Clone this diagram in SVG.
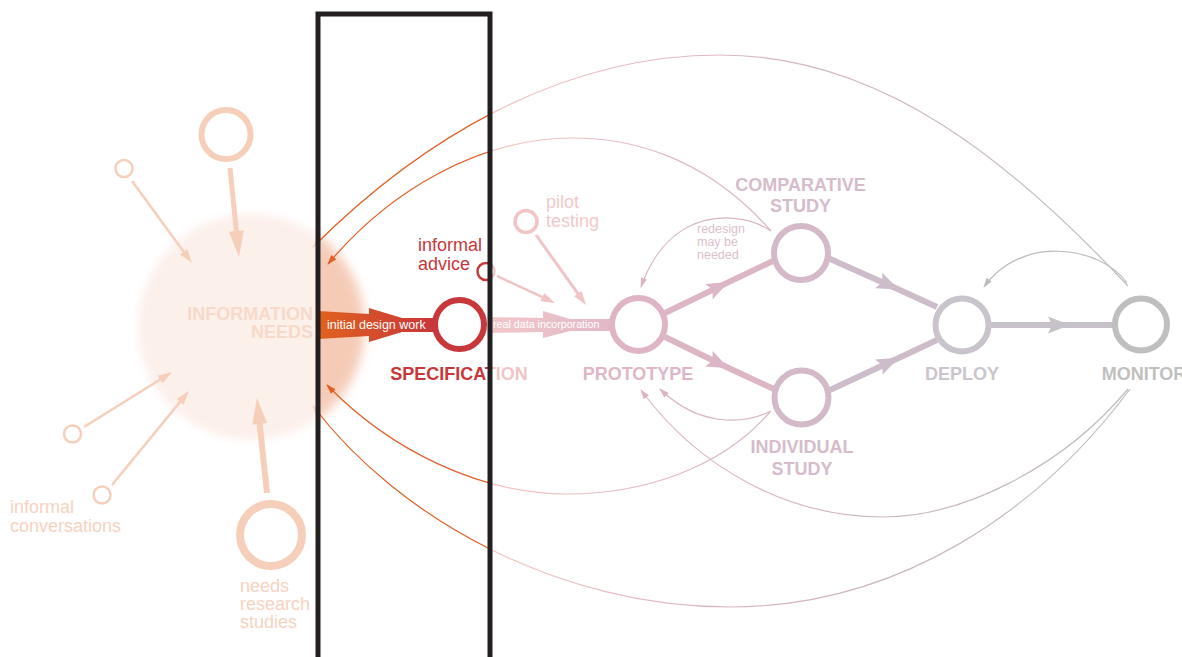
<svg xmlns="http://www.w3.org/2000/svg" width="1182" height="657" viewBox="0 0 1182 657">
<defs>
<style>
text { font-family: "Liberation Sans", Arial, Helvetica, sans-serif; }
.lbl { font-weight: bold; font-size: 18px; text-anchor: middle; }
.note { font-size: 18px; }
.small { font-size: 12.5px; }
.arc { fill: none; stroke-width: 1.2; }
.ring { fill: #ffffff; stroke-width: 6; }
.sat { fill: none; stroke: #f5cfba; }
.thick { fill: none; stroke-width: 6; }
</style>
<clipPath id="focus"><rect x="320.5" y="16.5" width="167" height="660"/></clipPath>
<filter id="soft" x="-20%" y="-20%" width="140%" height="140%"><feGaussianBlur stdDeviation="4"/></filter>
<filter id="glow" x="-20%" y="-20%" width="140%" height="140%"><feGaussianBlur stdDeviation="6"/></filter>
<linearGradient id="gArc" gradientUnits="userSpaceOnUse" x1="313" y1="0" x2="1130" y2="0">
<stop offset="0" stop-color="#f6d2c0"/>
<stop offset="0.0061" stop-color="#f6d2c0"/>
<stop offset="0.0062" stop-color="#e05f25"/>
<stop offset="0.2166" stop-color="#e05f25"/>
<stop offset="0.2167" stop-color="#f3c5bd"/>
<stop offset="0.4" stop-color="#e4bac6"/>
<stop offset="0.6" stop-color="#d3b6c4"/>
<stop offset="1" stop-color="#bdbdbd"/>
</linearGradient>
<linearGradient id="gArcR" gradientUnits="userSpaceOnUse" x1="640" y1="0" x2="1130" y2="0">
<stop offset="0" stop-color="#dfb6c5"/>
<stop offset="0.3" stop-color="#d5b6c5"/>
<stop offset="1" stop-color="#bebebe"/>
</linearGradient>
<linearGradient id="gInit" gradientUnits="userSpaceOnUse" x1="318" y1="0" x2="432" y2="0">
<stop offset="0" stop-color="#e0621e"/>
<stop offset="1" stop-color="#c8373a"/>
</linearGradient>
<linearGradient id="gReal" gradientUnits="userSpaceOnUse" x1="490" y1="0" x2="612" y2="0">
<stop offset="0" stop-color="#f1c8ca"/>
<stop offset="1" stop-color="#e2b7c7"/>
</linearGradient>
<linearGradient id="gSpec" gradientUnits="userSpaceOnUse" x1="380" y1="0" x2="540" y2="0">
<stop offset="0" stop-color="#c8373a"/>
<stop offset="0.6875" stop-color="#c8373a"/>
<stop offset="0.6876" stop-color="#f1c6c6"/>
<stop offset="1" stop-color="#efc2c4"/>
</linearGradient>
<linearGradient id="gAdvice" gradientUnits="userSpaceOnUse" x1="470" y1="0" x2="500" y2="0">
<stop offset="0" stop-color="#c8373a"/>
<stop offset="0.6666" stop-color="#c8373a"/>
<stop offset="0.6667" stop-color="#f1c6c6"/>
<stop offset="1" stop-color="#f1c6c6"/>
</linearGradient>
<marker id="mBig" viewBox="-17 -8 28 16" markerWidth="28" markerHeight="16" refX="0" refY="0" orient="auto" markerUnits="userSpaceOnUse"><path d="M10,0 L-16,-7.5 L-16,7.5 Z" fill="#f5cfba"/></marker>
<marker id="mSmall" viewBox="-10 -5 16 10" markerWidth="16" markerHeight="10" refX="0" refY="0" orient="auto" markerUnits="userSpaceOnUse"><path d="M5,0 L-9,-4.5 L-9,4.5 Z" fill="#f5cfba"/></marker>
<marker id="mSmallPink" viewBox="-10 -5 16 10" markerWidth="16" markerHeight="10" refX="0" refY="0" orient="auto" markerUnits="userSpaceOnUse"><path d="M5,0 L-9,-4.5 L-9,4.5 Z" fill="#f0c4c6"/></marker>
<marker id="mMidP" viewBox="-24 -10 28 20" markerWidth="28" markerHeight="20" refX="0" refY="0" orient="auto" markerUnits="userSpaceOnUse"><path d="M2,0 L-20,-8.5 L-16,0 L-20,8.5 Z" fill="#dcb6c6"/></marker>
<marker id="mMidC" viewBox="-24 -10 28 20" markerWidth="28" markerHeight="20" refX="0" refY="0" orient="auto" markerUnits="userSpaceOnUse"><path d="M2,0 L-20,-8.5 L-16,0 L-20,8.5 Z" fill="#cdbcc9"/></marker>
<marker id="mMidD" viewBox="-24 -10 28 20" markerWidth="28" markerHeight="20" refX="0" refY="0" orient="auto" markerUnits="userSpaceOnUse"><path d="M2,0 L-20,-8.5 L-16,0 L-20,8.5 Z" fill="#c6c2c8"/></marker>
<marker id="mArcO" viewBox="-10 -4 12 8" markerWidth="12" markerHeight="8" refX="0" refY="0" orient="auto" markerUnits="userSpaceOnUse"><path d="M1,0 L-9,-3.2 L-9,3.2 Z" fill="#e05f25"/></marker>
<marker id="mArcPale" viewBox="-10 -4 12 8" markerWidth="12" markerHeight="8" refX="0" refY="0" orient="auto" markerUnits="userSpaceOnUse"><path d="M1,0 L-9,-3.2 L-9,3.2 Z" fill="#f6d2c0"/></marker>
<marker id="mArcPink" viewBox="-10 -4 12 8" markerWidth="12" markerHeight="8" refX="0" refY="0" orient="auto" markerUnits="userSpaceOnUse"><path d="M1,0 L-9,-3.2 L-9,3.2 Z" fill="#dab4c4"/></marker>
<marker id="mArcGray" viewBox="-10 -4 12 8" markerWidth="12" markerHeight="8" refX="0" refY="0" orient="auto" markerUnits="userSpaceOnUse"><path d="M1,0 L-9,-3.2 L-9,3.2 Z" fill="#bdbdbd"/></marker>
</defs>

<rect x="0" y="0" width="1182" height="657" fill="#ffffff"/>

<g id="information-needs">
<circle cx="251" cy="327" r="113" fill="#fcf0eb" filter="url(#soft)"/>
<g clip-path="url(#focus)"><circle cx="251" cy="327" r="113" fill="#f5cbb6" filter="url(#glow)"/></g>
<text x="313" y="320" class="lbl" style="text-anchor:end" fill="#f7d9ca">INFORMATION</text>
<text x="313" y="338" class="lbl" style="text-anchor:end" fill="#f7d9ca">NEEDS</text>
</g>

<g id="satellites">
<g id="sat-top-large"><circle cx="226" cy="134.5" r="24.5" class="sat" stroke-width="6"/></g>
<g id="sat-top-small"><circle cx="124" cy="168.5" r="8.5" class="sat" stroke-width="2.5"/></g>
<g id="sat-left-1"><circle cx="72.5" cy="434" r="8.5" class="sat" stroke-width="2.5"/></g>
<g id="sat-left-2"><circle cx="102" cy="495" r="8.5" class="sat" stroke-width="2.5"/>
<text class="note" fill="#f7d2c0"><tspan x="10" y="513">informal</tspan><tspan x="10" y="532">conversations</tspan></text></g>
<g id="sat-bottom-large"><circle cx="271" cy="535" r="31" class="sat" stroke-width="8"/>
<text class="note" fill="#f7d2c0"><tspan x="240" y="592">needs</tspan><tspan x="240" y="610">research</tspan><tspan x="240" y="628">studies</tspan></text></g>
</g>

<g id="connectors">
<line x1="230" y1="168" x2="238" y2="247" stroke="#f5cfba" stroke-width="5" marker-end="url(#mBig)"/>
<line x1="267" y1="493" x2="258" y2="408" stroke="#f5cfba" stroke-width="6" marker-end="url(#mBig)"/>
<line x1="132" y1="181" x2="189" y2="259" stroke="#f5cfba" stroke-width="2.5" marker-end="url(#mSmall)"/>
<line x1="84" y1="427" x2="167.8" y2="374.7" stroke="#f5cfba" stroke-width="2.5" marker-end="url(#mSmall)"/>
<line x1="112" y1="485" x2="185.8" y2="394.9" stroke="#f5cfba" stroke-width="2.5" marker-end="url(#mSmall)"/>
<line x1="497" y1="276" x2="550.5" y2="300.9" stroke="#f0c4c6" stroke-width="2.5" marker-end="url(#mSmallPink)"/>
<line x1="536" y1="235" x2="583.1" y2="300.9" stroke="#f0c4c6" stroke-width="3" marker-end="url(#mSmallPink)"/>

<path class="arc" stroke="url(#gArc)" d="M1128,286 C1010,160 880,55 720,55 C560,55 420,140 313,247" marker-end="url(#mArcPale)"/>
<path class="arc" stroke="url(#gArc)" d="M771,231 C700,150 620,138 573,138 C480,138 390,190 328,264" marker-end="url(#mArcO)"/>
<path class="arc" stroke="url(#gArc)" d="M770,412 C720,470 640,494 567,494 C480,494 390,450 327,385" marker-end="url(#mArcO)"/>
<path class="arc" stroke="url(#gArc)" d="M1130,389 C1040,510 900,607 730,607 C560,607 400,520 313,406" marker-end="url(#mArcPale)"/>
<path class="arc" stroke="url(#gArcR)" d="M1128,389 C1060,470 960,517 883,517 C790,517 700,470 641,390" marker-end="url(#mArcPink)"/>
<path class="arc" stroke="#d8b4c4" d="M771,411 C745,424 700,428 660,389" marker-end="url(#mArcPink)"/>
<path class="arc" stroke="#d8b4c4" d="M771,231 C740,210 670,205 641,287" marker-end="url(#mArcPink)"/>
<path class="arc" stroke="#bdbdbd" d="M1127,283 C1100,245 1020,235 984,287" marker-end="url(#mArcGray)"/>

<g id="initial-design-work">
<path d="M318,311 L369,314 L369,308 L402,318 L434,318 L434,332 L402,332 L369,342 L369,336 L318,339 Z" fill="url(#gInit)"/>
<text x="327" y="328.5" font-size="12.5" fill="#ffffff">initial design work</text>
</g>
<g id="real-data-incorporation">
<path d="M490,317 L543,318 L543,311 L570,319 L612,319 L612,331 L570,331 L543,338 L543,332 L490,333 Z" fill="url(#gReal)"/>
<text x="493" y="327.5" font-size="10.7" fill="#ffffff">real data incorporation</text>
</g>

<path class="thick" stroke="#ddb6c6" d="M665,313 L727,282.9 L775,260" marker-mid="url(#mMidP)"/>
<path class="thick" stroke="#ddb6c6" d="M665,337 L727,367.3 L776,390" marker-mid="url(#mMidP)"/>
<path class="thick" stroke="#cdbcc9" d="M828,258 L897,288.7 L937,307" marker-mid="url(#mMidC)"/>
<path class="thick" stroke="#cdbcc9" d="M830,390 L897,358.7 L937,340" marker-mid="url(#mMidC)"/>
<path class="thick" stroke="#c7c2c9" d="M990,325 L1068,325 L1113,325" marker-mid="url(#mMidD)"/>
</g>

<g id="informal-advice">
<circle cx="486" cy="271.5" r="8.5" fill="#ffffff" stroke="url(#gAdvice)" stroke-width="2.5"/>
<text class="note" fill="#c8373a"><tspan x="418" y="251">informal</tspan><tspan x="418" y="270">advice</tspan></text>
</g>

<g id="pilot-testing">
<circle cx="526" cy="221.5" r="11" fill="#ffffff" stroke="#f1c5c6" stroke-width="3.5"/>
<text class="note" fill="#f2c8c8"><tspan x="546" y="208">pilot</tspan><tspan x="546" y="227">testing</tspan></text>
</g>

<g id="specification">
<circle cx="459.5" cy="324.5" r="24.5" class="ring" stroke="#c8373a" stroke-width="7"/>
<text x="459" y="380" class="lbl" fill="url(#gSpec)">SPECIFICATION</text>
</g>

<g id="prototype">
<circle cx="638.5" cy="324.5" r="26.5" class="ring" stroke="#dfb5c6"/>
<text x="638" y="380" class="lbl" fill="#e0b6c6">PROTOTYPE</text>
</g>

<g id="comparative-study">
<circle cx="801" cy="253" r="27" class="ring" stroke="#d4b9c9"/>
<text class="lbl" fill="#d6bccb"><tspan x="800.5" y="191">COMPARATIVE</tspan><tspan x="800.5" y="212">STUDY</tspan></text>
<text class="small" fill="#dabfcd"><tspan x="697" y="233">redesign</tspan><tspan x="697" y="246">may be</tspan><tspan x="697" y="259">needed</tspan></text>
</g>

<g id="individual-study">
<circle cx="801.5" cy="397.5" r="27" class="ring" stroke="#d4b9c9"/>
<text class="lbl" fill="#d6bccb"><tspan x="802" y="453">INDIVIDUAL</tspan><tspan x="802" y="475">STUDY</tspan></text>
</g>

<g id="deploy">
<circle cx="962" cy="325" r="26.5" class="ring" stroke="#c9c3cc"/>
<text x="962" y="380" class="lbl" fill="#cac5cd">DEPLOY</text>
</g>

<g id="monitor">
<circle cx="1141" cy="324.5" r="26" class="ring" stroke="#bfbfbf"/>
<text x="1144" y="380" class="lbl" fill="#c0c0c0">MONITOR</text>
</g>

<g id="focus-frame">
<rect x="318" y="14" width="172" height="700" fill="none" stroke="#231f20" stroke-width="5"/>
</g>
</svg>
